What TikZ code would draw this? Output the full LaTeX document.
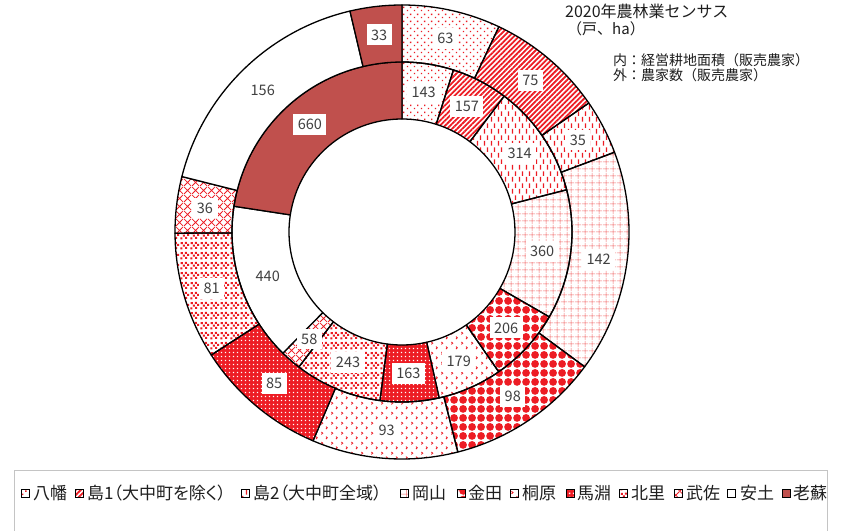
\documentclass[tikz,border=0pt]{standalone}
\usepackage{fontspec}
\setmainfont{Noto Sans CJK JP}
\newfontfamily\jpprop{Noto Sans CJK JP}[RawFeature=+palt]
\usetikzlibrary{patterns,patterns.meta}
\definecolor{patred}{RGB}{237,28,36}
\definecolor{patpink}{RGB}{242,110,110}
\definecolor{oisored}{RGB}{192,80,77}
\definecolor{lbltext}{RGB}{64,64,64}
\definecolor{txtdark}{RGB}{30,30,30}
\definecolor{framegray}{RGB}{196,196,196}

\pgfdeclarepattern{
  name=pYawata, type=uncolored,
  bottom left={\pgfpoint{0pt}{0pt}}, top right={\pgfpoint{7pt}{7pt}},
  tile size={\pgfpoint{7pt}{7pt}},
  code={\pgfpathrectangle{\pgfpoint{1pt}{1pt}}{\pgfpoint{1.5pt}{1.5pt}}
        \pgfpathrectangle{\pgfpoint{4.5pt}{4.5pt}}{\pgfpoint{1.5pt}{1.5pt}}
        \pgfusepath{fill}}
}
\pgfdeclarepattern{
  name=pShimaB, type=uncolored,
  bottom left={\pgfpoint{0pt}{0pt}}, top right={\pgfpoint{7pt}{12pt}},
  tile size={\pgfpoint{7pt}{12pt}},
  code={\pgfpathrectangle{\pgfpoint{1pt}{0.5pt}}{\pgfpoint{1.3pt}{5pt}}
        \pgfpathrectangle{\pgfpoint{4.5pt}{6.5pt}}{\pgfpoint{1.3pt}{5pt}}
        \pgfusepath{fill}}
}
\pgfdeclarepattern{
  name=pGrid, type=uncolored,
  bottom left={\pgfpoint{0pt}{0pt}}, top right={\pgfpoint{6.5pt}{6.5pt}},
  tile size={\pgfpoint{6.5pt}{6.5pt}},
  code={\pgfpathrectangle{\pgfpoint{0pt}{3pt}}{\pgfpoint{6.5pt}{0.6pt}}
        \pgfpathrectangle{\pgfpoint{3pt}{0pt}}{\pgfpoint{0.6pt}{6.5pt}}
        \pgfusepath{fill}}
}
\pgfdeclarepattern{
  name=pBlobs, type=uncolored,
  bottom left={\pgfpoint{0pt}{0pt}}, top right={\pgfpoint{9pt}{9pt}},
  tile size={\pgfpoint{9pt}{9pt}},
  code={\pgfpathcircle{\pgfpoint{4.5pt}{4.5pt}}{4.3pt}
        \pgfusepath{fill}}
}
\pgfdeclarepattern{
  name=pChevron, type=uncolored,
  bottom left={\pgfpoint{0pt}{0pt}}, top right={\pgfpoint{10pt}{10pt}},
  tile size={\pgfpoint{10pt}{10pt}},
  code={\pgfsetlinewidth{0.9pt}
        \pgfpathmoveto{\pgfpoint{1.5pt}{8.7pt}}\pgfpathlineto{\pgfpoint{3pt}{7.4pt}}\pgfpathlineto{\pgfpoint{1.5pt}{6.1pt}}
        \pgfpathmoveto{\pgfpoint{6.5pt}{3.7pt}}\pgfpathlineto{\pgfpoint{8pt}{2.4pt}}\pgfpathlineto{\pgfpoint{6.5pt}{1.1pt}}
        \pgfusepath{stroke}}
}
\pgfdeclarepattern{
  name=pSmallDots, type=uncolored,
  bottom left={\pgfpoint{0pt}{0pt}}, top right={\pgfpoint{4pt}{4pt}},
  tile size={\pgfpoint{4pt}{4pt}},
  code={\pgfpathrectangle{\pgfpoint{1pt}{1pt}}{\pgfpoint{1.7pt}{1.7pt}}
        \pgfusepath{fill}}
}
\pgfdeclarepattern{
  name=pConfetti, type=uncolored,
  bottom left={\pgfpoint{0pt}{0pt}}, top right={\pgfpoint{10pt}{10pt}},
  tile size={\pgfpoint{10pt}{10pt}},
  code={\pgfpathrectangle{\pgfpoint{0.4pt}{0.6pt}}{\pgfpoint{2.2pt}{2.2pt}}
        \pgfpathrectangle{\pgfpoint{5.6pt}{1.3pt}}{\pgfpoint{2.2pt}{2.2pt}}
        \pgfpathrectangle{\pgfpoint{3.0pt}{3.6pt}}{\pgfpoint{2.2pt}{2.2pt}}
        \pgfpathrectangle{\pgfpoint{7.8pt}{4.4pt}}{\pgfpoint{2.2pt}{2.2pt}}
        \pgfpathrectangle{\pgfpoint{0.8pt}{6.4pt}}{\pgfpoint{2.2pt}{2.2pt}}
        \pgfpathrectangle{\pgfpoint{5.2pt}{6.6pt}}{\pgfpoint{2.2pt}{2.2pt}}
        \pgfusepath{fill}}
}
\pgfdeclarepattern{
  name=pTrellis, type=uncolored,
  bottom left={\pgfpoint{0pt}{0pt}}, top right={\pgfpoint{8pt}{8pt}},
  tile size={\pgfpoint{8pt}{8pt}},
  code={\pgfsetlinewidth{0.8pt}
        \pgfpathmoveto{\pgfpoint{0pt}{0pt}}\pgfpathlineto{\pgfpoint{8pt}{8pt}}
        \pgfpathmoveto{\pgfpoint{0pt}{8pt}}\pgfpathlineto{\pgfpoint{8pt}{0pt}}
        \pgfusepath{stroke}}
}

\tikzset{
  seg/.style={draw=black, line width=1.3pt, line join=round},
  fYawata/.style={pattern=pYawata, pattern color=patred},
  fShimaA/.style={pattern={Lines[angle=45,distance=3.6pt,line width=1.8pt]}, pattern color=patred},
  fShimaB/.style={pattern=pShimaB, pattern color=patred},
  fOkayama/.style={pattern=pGrid, pattern color=patpink},
  fKaneda/.style={pattern=pBlobs, pattern color=patred},
  fKirihara/.style={pattern=pChevron, pattern color=patred},
  fMabuchi/.style={preaction={fill=patred}, pattern=pSmallDots, pattern color=white},
  fKitasato/.style={pattern=pConfetti, pattern color=patred},
  fMusa/.style={pattern=pTrellis, pattern color=patred},
  fAzuchi/.style={fill=white},
  fOiso/.style={fill=oisored},
  lbl/.style={fill=white, text=lbltext, font=\fontsize{14.5}{15}\selectfont, inner xsep=4.5pt, inner ysep=5pt},
  legm/.style={draw=black, line width=0.8pt, minimum size=8pt, inner sep=0pt, rectangle},
  legt/.style={anchor=west, inner sep=0pt, text=txtdark, font=\jpprop\fontsize{17}{18}\selectfont},
  note/.style={anchor=west, inner sep=0pt, text=txtdark},
}

% #1 c1, #2 c2, #3 total, #4 rin, #5 rout, #6 fill style
\newcommand\donutseg[6]{%
  \pgfmathsetmacro\tA{90-#1/#3*360}%
  \pgfmathsetmacro\tB{90-#2/#3*360}%
  \path[seg,#6] (\tA:#5pt) arc[start angle=\tA, end angle=\tB, radius=#5pt]
     -- (\tB:#4pt) arc[start angle=\tB, end angle=\tA, radius=#4pt] -- cycle;
}
% #1 c1, #2 c2, #3 total, #4 rin, #5 rout, #6 text, #7 name
\newcommand\donutlbl[7]{%
  \pgfmathsetmacro\tM{90-(#1+#2)/2/#3*360}%
  \pgfmathsetmacro\rM{(#4+#5)/2}%
  \node[lbl] (#7) at (\tM:\rM pt) {#6};
}

\begin{document}
\begin{tikzpicture}[x=1pt,y=1pt]
\useasboundingbox (0,0) rectangle (843,-530);
\fill[white] (0,0) rectangle (843,-530);

\begin{scope}[shift={(402,-232)}]
  % inner ring: 経営耕地面積
  \donutseg{0}{143}{2923}{113}{170}{fYawata}
  \donutseg{143}{300}{2923}{113}{170}{fShimaA}
  \donutseg{300}{614}{2923}{113}{170}{fShimaB}
  \donutseg{614}{974}{2923}{113}{170}{fOkayama}
  \donutseg{974}{1180}{2923}{113}{170}{fKaneda}
  \donutseg{1180}{1359}{2923}{113}{170}{fKirihara}
  \donutseg{1359}{1522}{2923}{113}{170}{fMabuchi}
  \donutseg{1522}{1765}{2923}{113}{170}{fKitasato}
  \donutseg{1765}{1823}{2923}{113}{170}{fMusa}
  \donutseg{1823}{2263}{2923}{113}{170}{fAzuchi}
  \donutseg{2263}{2923}{2923}{113}{170}{fOiso}
  % outer ring: 農家数
  \donutseg{0}{63}{897}{170}{227}{fYawata}
  \donutseg{63}{138}{897}{170}{227}{fShimaA}
  \donutseg{138}{173}{897}{170}{227}{fShimaB}
  \donutseg{173}{315}{897}{170}{227}{fOkayama}
  \donutseg{315}{413}{897}{170}{227}{fKaneda}
  \donutseg{413}{506}{897}{170}{227}{fKirihara}
  \donutseg{506}{591}{897}{170}{227}{fMabuchi}
  \donutseg{591}{672}{897}{170}{227}{fKitasato}
  \donutseg{672}{708}{897}{170}{227}{fMusa}
  \donutseg{708}{864}{897}{170}{227}{fAzuchi}
  \donutseg{864}{897}{897}{170}{227}{fOiso}
  % labels
  \donutlbl{0}{143}{2923}{113}{170}{143}{i1}
  \donutlbl{143}{300}{2923}{113}{170}{157}{i2}
  \donutlbl{300}{614}{2923}{113}{170}{314}{i3}
  \donutlbl{614}{974}{2923}{113}{170}{360}{i4}
  \donutlbl{974}{1180}{2923}{113}{170}{206}{i5}
  \donutlbl{1180}{1359}{2923}{113}{170}{179}{i6}
  \donutlbl{1359}{1522}{2923}{113}{170}{163}{i7}
  \donutlbl{1522}{1765}{2923}{113}{170}{243}{i8}
  \donutlbl{1765}{1823}{2923}{113}{170}{58}{i9}
  \donutlbl{1823}{2263}{2923}{113}{170}{440}{i10}
  \donutlbl{2263}{2923}{2923}{113}{170}{660}{i11}
  \donutlbl{0}{63}{897}{170}{227}{63}{o1}
  \donutlbl{63}{138}{897}{170}{227}{75}{o2}
  \donutlbl{138}{173}{897}{170}{227}{35}{o3}
  \donutlbl{173}{315}{897}{170}{227}{142}{o4}
  \donutlbl{315}{413}{897}{170}{227}{98}{o5}
  \donutlbl{413}{506}{897}{170}{227}{93}{o6}
  \donutlbl{506}{591}{897}{170}{227}{85}{o7}
  \donutlbl{591}{672}{897}{170}{227}{81}{o8}
  \donutlbl{672}{708}{897}{170}{227}{36}{o9}
  \donutlbl{708}{864}{897}{170}{227}{156}{o10}
  \donutlbl{864}{897}{897}{170}{227}{33}{o11}
\end{scope}

% notes
\node[note, font=\fontsize{16}{18}\selectfont] (title) at (565,-11) {2020年農林業センサス};
\node[note, font=\fontsize{15}{17}\selectfont] (unit) at (567,-29) {（戸、ha）};
\node[note, font=\fontsize{14}{16}\selectfont] (inner) at (613,-60) {内：経営耕地面積（販売農家）};
\node[note, font=\fontsize{14}{16}\selectfont] (outer) at (613,-75) {外：農家数（販売農家）};

% legend
\draw[framegray, line width=1pt] (14,-545) -- (14,-470) -- (827,-470) -- (827,-545);
\node[legm, fYawata]   (m1)  at (25.5,-493) {};  \node[legt] (t1)  at (33,-493)  {八幡};
\node[legm, fShimaA]   (m2)  at (79.5,-493) {};  \node[legt] (t2)  at (87,-493)  {島1（大中町を除く）};
\node[legm, fShimaB]   (m3)  at (245.5,-493) {}; \node[legt] (t3)  at (253,-493) {島2（大中町全域）};
\node[legm, fOkayama]  (m4)  at (404.5,-493) {}; \node[legt] (t4)  at (412,-493) {岡山};
\node[legm, fKaneda]   (m5)  at (461.5,-493) {}; \node[legt] (t5)  at (468,-493) {金田};
\node[legm, fKirihara] (m6)  at (514.5,-493) {}; \node[legt] (t6)  at (522,-493) {桐原};
\node[legm, fMabuchi]  (m7)  at (570,-493) {};   \node[legt] (t7)  at (577,-493) {馬淵};
\node[legm, fKitasato] (m8)  at (623.5,-493) {}; \node[legt] (t8)  at (631,-493) {北里};
\node[legm, fMusa]     (m9)  at (678,-493) {};   \node[legt] (t9)  at (686,-493) {武佐};
\node[legm, fAzuchi]   (m10) at (731.5,-493) {}; \node[legt] (t10) at (740,-493) {安土};
\node[legm, fOiso]     (m11) at (786,-493) {};   \node[legt] (t11) at (793,-493) {老蘇};
\end{tikzpicture}
\end{document}
